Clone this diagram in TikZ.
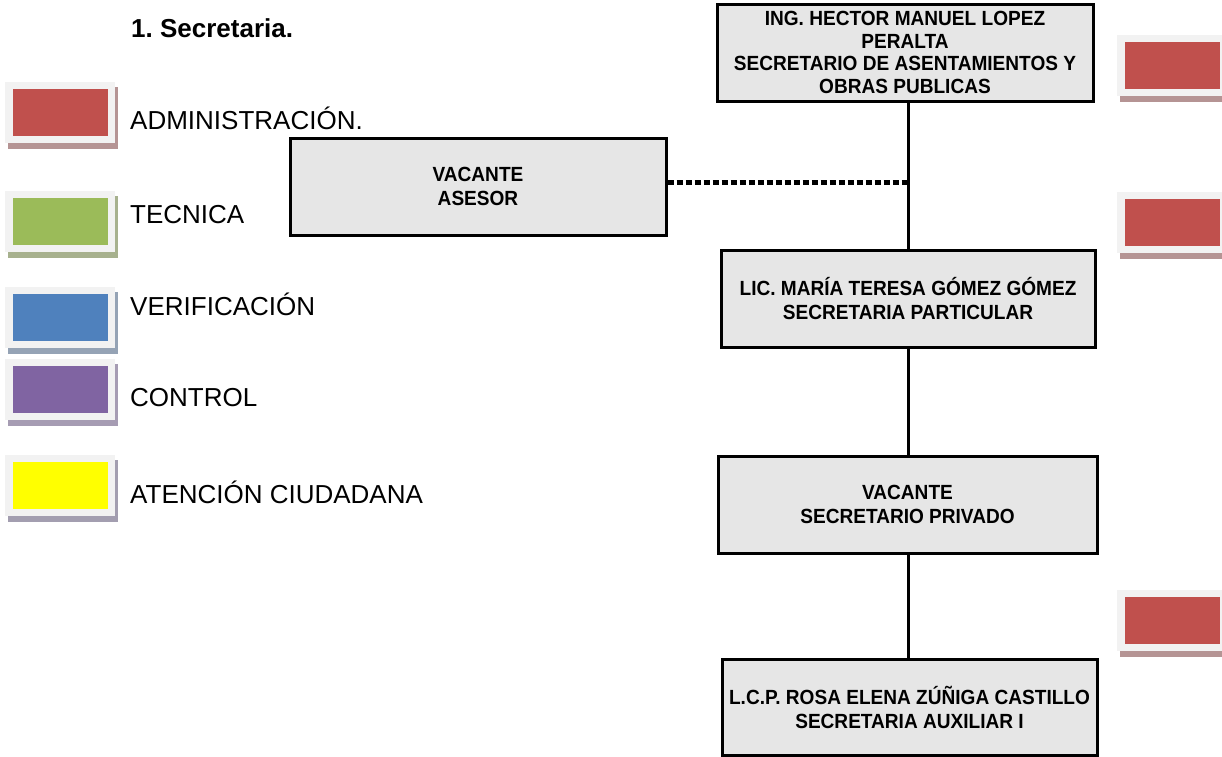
\documentclass[tikz,border=0pt]{standalone}
\usepackage{fontspec}
\setmainfont{Liberation Sans}
\newfontfamily\boxfont{Liberation Sans Bold}[FakeStretch=0.93]
\usetikzlibrary{calc}

\definecolor{boxgray}{HTML}{E6E6E6}
\definecolor{swframe}{HTML}{F2F2F2}
\definecolor{swred}{HTML}{C0504D}
\definecolor{swgreen}{HTML}{9BBB59}
\definecolor{swblue}{HTML}{4F81BD}
\definecolor{swpurple}{HTML}{8064A2}
\definecolor{swyellow}{HTML}{FFFF00}
\definecolor{shred}{HTML}{B59494}
\definecolor{shgreen}{HTML}{A7B18E}
\definecolor{shblue}{HTML}{95A3B5}
\definecolor{shpurple}{HTML}{A69CB3}
\definecolor{shyellow}{HTML}{A39EB0}

% colour swatch: frame top-left corner, fill colour, shadow colour
\newcommand\colorswatch[4]{%
  \fill[#4] (#1+3,#2+5) rectangle (#1+113,#2+67);
  \fill[swframe] (#1,#2) rectangle (#1+110,#2+61);
  \fill[#3] (#1+7.5,#2+7) rectangle (#1+102.5,#2+54);
}

\tikzset{
  orgbox/.style={draw=black, line width=3pt, fill=boxgray,
    minimum width=376pt, minimum height=97pt, inner sep=0pt,
    align=center, font=\boxfont\fontsize{20.5}{24}\selectfont},
  legendtext/.style={anchor=base west, inner sep=0pt,
    font=\fontsize{26}{30}\selectfont},
  spine/.style={line width=3pt},
  dotline/.style={line width=5pt, dash pattern=on 6.5pt off 2.5pt}
}

\begin{document}
\begin{tikzpicture}[x=1pt,y=-1pt]
\useasboundingbox (0,0) rectangle (1222,756);

% title
\node[anchor=base west, inner sep=0pt, font=\bfseries\fontsize{26}{30}\selectfont]
  (title) at (131,37) {1.\ Secretaria.};

% legend
\colorswatch{5}{82}{swred}{shred}
\colorswatch{5}{191}{swgreen}{shgreen}
\colorswatch{5}{287}{swblue}{shblue}
\colorswatch{5}{359}{swpurple}{shpurple}
\colorswatch{5}{455}{swyellow}{shyellow}

\node[legendtext] (ladm) at (130,129) {ADMINISTRACIÓN.};
\node[legendtext] (ltec) at (130,223) {TECNICA};
\node[legendtext] (lver) at (130,315) {VERIFICACIÓN};
\node[legendtext] (lcon) at (130,406) {CONTROL};
\node[legendtext] (lat) at (130,503) {ATENCIÓN CIUDADANA};

% swatches at the right margin
\colorswatch{1117}{35}{swred}{shred}
\colorswatch{1117}{192}{swred}{shred}
\colorswatch{1117}{590}{swred}{shred}

% organisation chart
\node[orgbox, font=\boxfont\fontsize{20.5}{22.5}\selectfont] (sec) at (905,52.5)
  {ING. HECTOR MANUEL LOPEZ\\PERALTA\\SECRETARIO DE ASENTAMIENTOS Y\\OBRAS PUBLICAS};
\node[orgbox] (ases) at (478,186.5) {VACANTE\\ASESOR};
\node[orgbox, minimum width=374pt] (part) at (908,298.5)
  {LIC. MARÍA TERESA GÓMEZ GÓMEZ\\SECRETARIA PARTICULAR};
\node[orgbox, minimum width=379pt] (priv) at (907.5,504.5)
  {VACANTE\\SECRETARIO PRIVADO};
\node[orgbox, minimum width=375pt, minimum height=96pt] (aux) at (909.5,707)
  {L.C.P. ROSA ELENA ZÚÑIGA CASTILLO\\SECRETARIA AUXILIAR I};

\coordinate (axis) at (908,0);
\coordinate (junction) at (908,182);

\draw[spine] (sec.south -| axis) -- (part.north -| axis);
\draw[spine] (part.south -| axis) -- (priv.north -| axis);
\draw[spine] (priv.south -| axis) -- (aux.north -| axis);
\draw[dotline] (ases.east |- junction) -- (junction);
\end{tikzpicture}
\end{document}
